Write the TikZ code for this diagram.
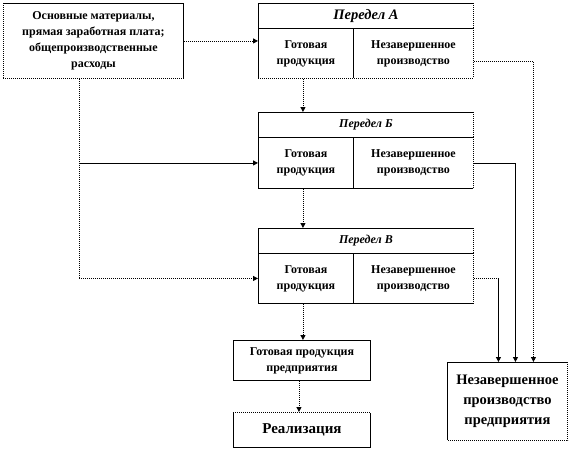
\documentclass[tikz,border=0pt]{standalone}
\usepackage{fontspec}
\setmainfont{Liberation Serif}
\usetikzlibrary{arrows.meta,calc}
\begin{document}
\begin{tikzpicture}[x=1pt,y=-1pt,
  box/.style={draw,line width=0.9pt,rectangle,inner sep=1pt,anchor=north west,align=center,font=\bfseries\fontsize{12}{16}\selectfont},
  dotline/.style={line width=0.9pt,dash pattern=on 1pt off 1pt},
  solline/.style={line width=0.9pt},
  erase/.style={white,line width=1.4pt},
  arr/.style={-{Triangle[length=5pt,width=5pt]}}]
\useasboundingbox (0,0) rectangle (570,450);
% source
\node[box,minimum width=180,minimum height=75,font=\bfseries\fontsize{12}{16}\selectfont] (src) at (3,3)
  {Основные материалы,\\прямая заработная плата;\\общепроизводственные\\расходы};
% Peredel A
\node[box,minimum width=215,minimum height=25,font=\bfseries\itshape\fontsize{14.5}{16}\selectfont] (At) at (258,3) {Передел А};
\node[box,minimum width=95,minimum height=50] (Al) at (258,28) {Готовая\\продукция};
\node[box,minimum width=120,minimum height=50] (Ar) at (353,28) {Незавершенное\\производство};
% Peredel B
\node[box,minimum width=215,minimum height=25,font=\bfseries\itshape\fontsize{12}{14}\selectfont] (Bt) at (258,112) {Передел Б};
\node[box,minimum width=95,minimum height=51] (Bl) at (258,137) {Готовая\\продукция};
\node[box,minimum width=120,minimum height=51] (Br) at (353,137) {Незавершенное\\производство};
% Peredel C
\node[box,minimum width=215,minimum height=25,font=\bfseries\itshape\fontsize{12}{14}\selectfont] (Ct) at (258,228) {Передел В};
\node[box,minimum width=95,minimum height=50] (Cl) at (258,253) {Готовая\\продукция};
\node[box,minimum width=120,minimum height=50] (Cr) at (353,253) {Незавершенное\\производство};
% bottom
\node[box,minimum width=137,minimum height=40] (gp) at (233,340) {Готовая продукция\\предприятия};
\node[box,minimum width=137,minimum height=35,font=\bfseries\fontsize{15}{17}\selectfont] (real) at (233,412) {Реализация};
\node[box,minimum width=120,minimum height=78,font=\bfseries\fontsize{14.5}{20}\selectfont] (wip) at (447,362) {Незавершенное\\производство\\предприятия};
% dotted (shadowed) edges
\draw[erase] (src.north west) -- (src.south west) -- (src.south east);
\draw[dotline] (src.north west) -- (src.south west) -- (src.south east);
\draw[erase] (wip.north east) -- (wip.south east) -- (wip.south west);
\draw[dotline] (wip.north east) -- (wip.south east) -- (wip.south west);
\foreach \n in {At,Ar,Bt,Br,Ct,Cr}{
  \draw[erase] (\n.north east) -- (\n.south east);
  \draw[dotline] (\n.north east) -- (\n.south east);}
\draw[erase] (Al.south west) -- (Ar.south east);
\draw[dotline] (Al.south west) -- (Ar.south east);
\draw[erase] (real.north west) -- (real.north east);
\draw[dotline] (real.north west) -- (real.north east);
% connectors
\draw[dotline,arr] (src.east) -- (src.east -| Al.west);
\coordinate (s1) at ([xshift=76]src.south west);
\coordinate (s2) at (s1 |- Cl.west);
\draw[dotline] (s1) -- (s2);
\draw[dotline,arr] (s2) -- (Cl.west);
\draw[solline,arr] (s1 |- Bl.west) -- (Bl.west);
\draw[dotline,arr] ([xshift=-3]Al.south) -- ([xshift=-3]Al.south |- Bt.north);
\draw[dotline,arr] ([xshift=-3]Bl.south) -- ([xshift=-3]Bl.south |- Ct.north);
\draw[dotline,arr] ([xshift=-3]Cl.south) -- ([xshift=-3]Cl.south |- gp.north);
\draw[dotline,arr] ([xshift=-3]gp.south) -- ([xshift=-3]gp.south |- real.north);
\coordinate (wa) at ([xshift=26]wip.north);
\coordinate (wb) at ([xshift=8]wip.north);
\coordinate (wc) at ([xshift=-9]wip.north);
\draw[dotline,arr] ([yshift=-8]Ar.east) -| (wa);
\draw[solline,arr] (Br.east) -| (wb);
\coordinate (c1) at (Cr.east -| wc);
\draw[dotline] (Cr.east) -- (c1);
\draw[solline,arr] (c1) -- (wc);
\end{tikzpicture}
\end{document}
